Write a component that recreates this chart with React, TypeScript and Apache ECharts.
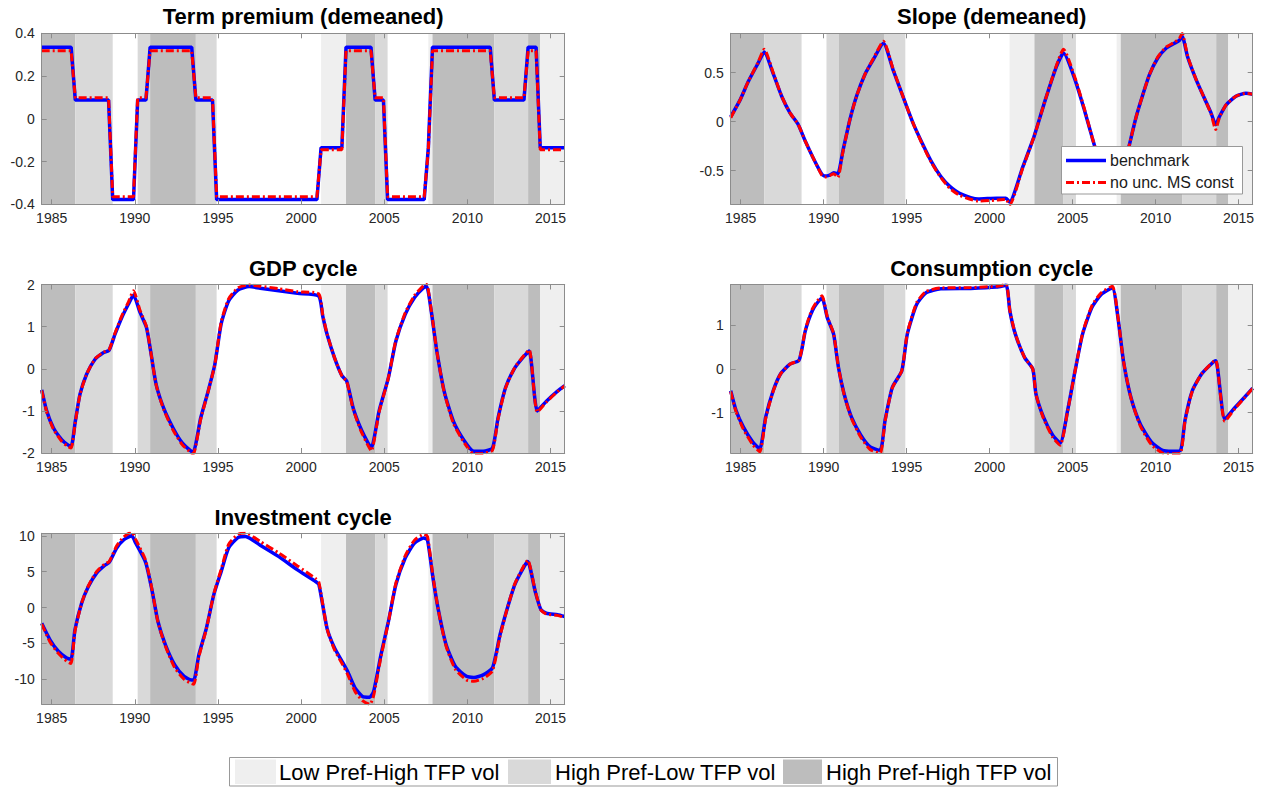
import { useEffect, useRef } from "react";
import * as echarts from "echarts";

// ---- shared axis range ----
const X_MIN = 1984.4;
const X_MAX = 2015.85;
const yearTicks = [1985, 1990, 1995, 2000, 2005, 2010, 2015];

// ---- volatility regimes (quarter edges) ----
const regimeEdges = [1984.4, 1986.42, 1988.67, 1990.17, 1990.92, 1993.67, 1994.92, 2001.2, 2002.7, 2004.45, 2005.2, 2007.65, 2007.9, 2011.62, 2013.65, 2014.38, 2015.85];
const regimeCodes = ["HH", "HL", "LL", "HL", "HH", "HL", "LL", "LH", "HH", "HL", "LL", "LH", "HH", "HL", "HH", "LH"];
const regimeLegend = [
  { code: "LH", label: "Low Pref-High TFP vol" },
  { code: "HL", label: "High Pref-Low TFP vol" },
  { code: "HH", label: "High Pref-High TFP vol" },
];
const regimeColors: Record<string, string> = { LH: "#efefef", HL: "#d9d9d9", HH: "#bdbdbd" };

// ---- Term premium (demeaned) ----
const tpYears = [1984.4, 1986.17, 1986.42, 1988.42, 1988.67, 1989.92, 1990.17, 1990.67, 1990.92, 1993.42, 1993.67, 1994.67, 1994.92, 2000.95, 2001.2, 2002.45, 2002.7, 2004.2, 2004.45, 2004.95, 2005.2, 2007.4, 2007.65, 2007.9, 2011.37, 2011.62, 2013.4, 2013.65, 2014.13, 2014.38, 2015.85];
const tpBench = [0.335, 0.335, 0.088, 0.088, -0.378, -0.378, 0.088, 0.088, 0.335, 0.335, 0.088, 0.088, -0.378, -0.378, -0.135, -0.135, 0.335, 0.335, 0.088, 0.088, -0.378, -0.378, -0.135, 0.335, 0.335, 0.088, 0.088, 0.335, 0.335, -0.135, -0.135];
const tpNoUnc = [0.318, 0.318, 0.098, 0.098, -0.365, -0.365, 0.098, 0.098, 0.318, 0.318, 0.098, 0.098, -0.365, -0.365, -0.145, -0.145, 0.318, 0.318, 0.098, 0.098, -0.365, -0.365, -0.145, 0.318, 0.318, 0.098, 0.098, 0.318, 0.318, -0.145, -0.145];

// ---- Slope (demeaned) ----
const slopeYears = [1984.4, 1984.96, 1985.46, 1986.06, 1986.42, 1986.96, 1987.47, 1987.97, 1988.47, 1988.87, 1989.37, 1989.87, 1990.07, 1990.37, 1990.61, 1990.85, 1991.17, 1991.58, 1991.98, 1992.48, 1992.98, 1993.6, 1994.2, 1994.86, 1995.4, 1995.94, 1996.5, 1997.06, 1997.6, 1998.19, 1999.31, 2000.43, 2000.98, 2001.2, 2002.0, 2002.68, 2003.35, 2004.02, 2004.45, 2005.14, 2005.71, 2006.16, 2006.6, 2007.1, 2007.65, 2007.9, 2008.4, 2008.83, 2009.22, 2009.63, 2010.13, 2010.63, 2011.13, 2011.43, 2011.6, 2011.93, 2012.44, 2012.94, 2013.34, 2013.62, 2013.84, 2014.24, 2014.84, 2015.44, 2015.85];
const slopeBench = [0.05, 0.22, 0.41, 0.6, 0.71, 0.49, 0.26, 0.09, -0.03, -0.19, -0.37, -0.53, -0.555, -0.545, -0.52, -0.53, -0.29, 0.02, 0.26, 0.48, 0.63, 0.8, 0.52, 0.22, -0.02, -0.22, -0.41, -0.56, -0.66, -0.73, -0.79, -0.78, -0.78, -0.82, -0.46, -0.15, 0.22, 0.56, 0.7, 0.43, 0.12, -0.15, -0.4, -0.58, -0.66, -0.6, -0.25, 0.05, 0.27, 0.48, 0.65, 0.75, 0.8, 0.83, 0.87, 0.66, 0.43, 0.24, 0.09, -0.03, 0.05, 0.17, 0.26, 0.29, 0.28];
const slopeNoUnc = [0.04, 0.22, 0.41, 0.61, 0.74, 0.5, 0.26, 0.09, -0.03, -0.19, -0.37, -0.54, -0.565, -0.55, -0.53, -0.57, -0.3, 0.02, 0.26, 0.48, 0.64, 0.82, 0.53, 0.22, -0.02, -0.23, -0.42, -0.57, -0.68, -0.75, -0.81, -0.8, -0.79, -0.85, -0.47, -0.15, 0.22, 0.57, 0.74, 0.45, 0.13, -0.15, -0.4, -0.58, -0.66, -0.6, -0.25, 0.05, 0.27, 0.48, 0.66, 0.76, 0.81, 0.85, 0.9, 0.67, 0.43, 0.24, 0.08, -0.08, 0.04, 0.17, 0.26, 0.29, 0.28];

// ---- GDP cycle ----
const gdpYears = [1984.4, 1984.7, 1985.1, 1985.6, 1985.95, 1986.17, 1986.42, 1986.7, 1987.1, 1987.6, 1988.1, 1988.45, 1988.81, 1989.21, 1989.61, 1989.92, 1990.3, 1990.7, 1990.95, 1991.28, 1991.73, 1992.29, 1992.85, 1993.4, 1993.52, 1993.96, 1994.41, 1994.81, 1995.19, 1995.64, 1996.2, 1996.87, 1997.54, 1998.66, 1999.78, 2001.05, 2001.3, 2001.56, 2002.01, 2002.46, 2002.74, 2003.13, 2003.57, 2004.02, 2004.22, 2004.69, 2005.25, 2005.7, 2006.26, 2006.82, 2007.38, 2007.55, 2007.82, 2008.16, 2008.6, 2009.16, 2009.83, 2010.39, 2010.95, 2011.51, 2011.84, 2012.29, 2012.85, 2013.41, 2013.72, 2014.2, 2014.75, 2015.42, 2015.85];
const gdpBench = [-0.5, -1.0, -1.4, -1.68, -1.8, -1.84, -1.25, -0.61, -0.13, 0.22, 0.38, 0.44, 0.82, 1.21, 1.53, 1.75, 1.35, 0.98, 0.42, -0.37, -0.93, -1.4, -1.76, -1.96, -1.97, -1.17, -0.53, 0.1, 1.06, 1.61, 1.87, 1.95, 1.91, 1.85, 1.79, 1.73, 1.25, 0.82, 0.26, -0.17, -0.29, -0.93, -1.4, -1.76, -1.88, -1.0, -0.21, 0.66, 1.29, 1.69, 1.93, 1.95, 1.38, 0.42, -0.53, -1.25, -1.72, -1.96, -1.96, -1.88, -1.17, -0.45, 0.02, 0.3, 0.42, -1.0, -0.77, -0.53, -0.4];
const gdpNoUnc = [-0.52, -1.02, -1.43, -1.72, -1.84, -1.88, -1.27, -0.62, -0.13, 0.23, 0.39, 0.45, 0.85, 1.25, 1.58, 1.85, 1.4, 1.0, 0.42, -0.38, -0.96, -1.45, -1.8, -2.0, -2.02, -1.2, -0.54, 0.1, 1.1, 1.66, 1.92, 1.99, 1.96, 1.9, 1.83, 1.78, 1.28, 0.83, 0.26, -0.18, -0.3, -0.96, -1.45, -1.82, -1.95, -1.03, -0.21, 0.68, 1.33, 1.74, 1.98, 2.0, 1.4, 0.42, -0.55, -1.3, -1.77, -2.02, -2.01, -1.93, -1.2, -0.46, 0.03, 0.32, 0.45, -1.03, -0.79, -0.54, -0.41];

// ---- Consumption cycle ----
const consYears = [1984.4, 1984.72, 1985.16, 1985.73, 1986.15, 1986.51, 1986.96, 1987.41, 1987.97, 1988.5, 1988.67, 1988.88, 1989.09, 1989.32, 1989.54, 1989.9, 1990.22, 1990.6, 1990.89, 1991.23, 1991.67, 1992.24, 1992.8, 1993.4, 1993.7, 1994.14, 1994.71, 1995.04, 1995.6, 1996.17, 1997.06, 1998.86, 2000.43, 2000.99, 2001.22, 2001.55, 2002.11, 2002.6, 2002.79, 2003.24, 2003.8, 2004.25, 2004.7, 2005.15, 2005.6, 2006.16, 2006.72, 2007.39, 2007.73, 2008.06, 2008.51, 2009.07, 2009.75, 2010.42, 2010.98, 2011.5, 2011.77, 2012.21, 2012.78, 2013.45, 2013.63, 2014.17, 2014.8, 2015.36, 2015.85];
const consBench = [-0.5, -0.95, -1.33, -1.68, -1.83, -1.1, -0.5, -0.11, 0.11, 0.19, 0.42, 0.85, 1.12, 1.34, 1.48, 1.63, 1.18, 0.8, 0.04, -0.57, -1.1, -1.52, -1.79, -1.87, -1.18, -0.42, -0.04, 0.8, 1.48, 1.75, 1.84, 1.85, 1.88, 1.92, 1.33, 0.8, 0.26, 0.0, -0.57, -1.1, -1.52, -1.7, -0.95, -0.04, 0.8, 1.41, 1.71, 1.86, 1.18, 0.19, -0.65, -1.26, -1.68, -1.87, -1.89, -1.87, -1.18, -0.5, -0.11, 0.15, 0.19, -1.15, -0.88, -0.65, -0.44];
const consNoUnc = [-0.52, -0.98, -1.38, -1.74, -1.9, -1.13, -0.51, -0.11, 0.11, 0.2, 0.43, 0.87, 1.15, 1.38, 1.52, 1.68, 1.2, 0.81, 0.04, -0.58, -1.13, -1.57, -1.85, -1.93, -1.2, -0.43, -0.04, 0.82, 1.52, 1.78, 1.86, 1.87, 1.9, 1.94, 1.34, 0.8, 0.26, 0.0, -0.58, -1.13, -1.57, -1.75, -0.97, -0.04, 0.82, 1.45, 1.75, 1.9, 1.2, 0.19, -0.66, -1.3, -1.74, -1.93, -1.95, -1.93, -1.2, -0.51, -0.11, 0.16, 0.2, -1.2, -0.9, -0.66, -0.45];

// ---- Investment cycle ----
const invYears = [1984.4, 1984.9, 1985.4, 1985.9, 1986.16, 1986.4, 1986.8, 1987.2, 1987.7, 1988.2, 1988.46, 1988.91, 1989.31, 1989.81, 1990.05, 1990.65, 1991.05, 1991.39, 1991.84, 1992.4, 1992.96, 1993.4, 1993.55, 1993.85, 1994.3, 1994.75, 1995.19, 1995.64, 1996.2, 1996.65, 1997.54, 1998.66, 1999.78, 2000.89, 2001.07, 2001.56, 2002.01, 2002.46, 2002.79, 2003.24, 2003.69, 2004.13, 2004.36, 2004.8, 2005.25, 2005.7, 2006.26, 2006.82, 2007.38, 2007.6, 2007.93, 2008.27, 2008.72, 2009.27, 2009.94, 2010.39, 2010.95, 2011.51, 2011.96, 2012.4, 2012.85, 2013.41, 2013.63, 2014.08, 2014.42, 2014.75, 2015.42, 2015.85];
const invBench = [-2.2, -4.5, -6.1, -7.05, -7.2, -3.1, 0.6, 2.9, 4.8, 5.9, 6.3, 8.3, 9.4, 10.0, 9.0, 6.3, 2.2, -1.95, -5.2, -8.0, -9.6, -10.1, -10.1, -6.6, -2.9, 1.8, 5.0, 8.3, 9.75, 9.9, 8.7, 7.1, 5.25, 3.6, 3.2, -2.9, -5.65, -7.5, -8.9, -11.2, -12.4, -12.5, -11.7, -6.6, -1.95, 3.2, 6.9, 9.0, 9.7, 9.4, 4.1, -0.55, -5.2, -8.2, -9.6, -9.75, -9.4, -8.4, -3.8, -0.1, 3.2, 5.7, 6.4, 2.2, -0.3, -0.8, -1.0, -1.25];
const invNoUnc = [-2.3, -4.8, -6.4, -7.5, -7.8, -3.3, 0.6, 3.0, 5.0, 6.1, 6.4, 8.6, 9.8, 10.5, 9.5, 6.6, 2.3, -2.0, -5.4, -8.4, -10.0, -10.6, -10.7, -6.9, -3.0, 1.9, 5.3, 8.8, 10.2, 10.4, 9.2, 7.6, 5.8, 4.0, 3.5, -3.0, -5.9, -7.8, -9.3, -11.7, -13.0, -13.5, -12.3, -6.9, -2.0, 3.4, 7.2, 9.4, 10.2, 9.9, 4.3, -0.6, -5.4, -8.6, -10.1, -10.3, -9.9, -8.8, -4.0, -0.1, 3.3, 5.9, 6.6, 2.3, -0.35, -0.9, -1.1, -1.4];

// ---- panel layout ----
const FONT = "'Liberation Sans', Arial, Helvetica, sans-serif";
const BOX = "#8c8c8c";
const LABEL = "#262626";
const BLUE = "#0000ff";
const RED = "#ff0000";
const RED_DASH = [8, 3, 2, 3];

type Panel = {
  title: string;
  grid: { left: number; top: number; width: number; height: number };
  yMin: number;
  yMax: number;
  yTicks: number[];
  years: number[];
  bench: number[];
  noUnc: number[];
  smooth: number | boolean;
};

const panels: Panel[] = [
  { title: "Term premium (demeaned)", grid: { left: 41.7, top: 33.3, width: 523, height: 171 }, yMin: -0.4, yMax: 0.4, yTicks: [-0.4, -0.2, 0, 0.2, 0.4], years: tpYears, bench: tpBench, noUnc: tpNoUnc, smooth: false },
  { title: "Slope (demeaned)", grid: { left: 730.7, top: 33.3, width: 522, height: 171 }, yMin: -0.843, yMax: 0.902, yTicks: [-0.5, 0, 0.5], years: slopeYears, bench: slopeBench, noUnc: slopeNoUnc, smooth: 0.2 },
  { title: "GDP cycle", grid: { left: 41.7, top: 284.5, width: 523, height: 168.5 }, yMin: -2, yMax: 2, yTicks: [-2, -1, 0, 1, 2], years: gdpYears, bench: gdpBench, noUnc: gdpNoUnc, smooth: 0.2 },
  { title: "Consumption cycle", grid: { left: 730.7, top: 284.5, width: 522, height: 168.5 }, yMin: -1.93, yMax: 1.94, yTicks: [-1, 0, 1], years: consYears, bench: consBench, noUnc: consNoUnc, smooth: 0.2 },
  { title: "Investment cycle", grid: { left: 41.7, top: 533.3, width: 523, height: 171 }, yMin: -13.5, yMax: 10.35, yTicks: [-10, -5, 0, 5, 10], years: invYears, bench: invBench, noUnc: invNoUnc, smooth: 0.2 },
];

const titleCenters = [16.7, 16.7, 268.3, 268.3, 517];

function buildOption() {
  const grids: any[] = [];
  const xAxes: any[] = [];
  const yAxes: any[] = [];
  const series: any[] = [];
  const graphics: any[] = [];

  const bands = regimeCodes
    .map((code, i) =>
      code === "LL"
        ? null
        : [
            { xAxis: regimeEdges[i], itemStyle: { color: regimeColors[code], opacity: 1 } },
            { xAxis: regimeEdges[i + 1] },
          ]
    )
    .filter(Boolean);

  panels.forEach((p, gi) => {
    grids.push({ ...p.grid });
    const tickStyle = { show: true, inside: true, length: 5, lineStyle: { color: BOX, width: 1 } };
    const lineStyle = { show: true, onZero: false, lineStyle: { color: BOX, width: 1 } };
    xAxes.push({
      type: "value", gridIndex: gi, min: X_MIN, max: X_MAX, position: "bottom", z: 10,
      splitLine: { show: false }, axisLine: lineStyle,
      axisTick: { ...tickStyle, customValues: yearTicks },
      axisLabel: {
        customValues: yearTicks, margin: 7, fontSize: 14, color: LABEL, fontFamily: FONT,
        formatter: (v: number) => String(Math.round(v)),
      },
    });
    xAxes.push({
      type: "value", gridIndex: gi, min: X_MIN, max: X_MAX, position: "top", z: 10,
      splitLine: { show: false }, axisLine: lineStyle,
      axisTick: { ...tickStyle, customValues: yearTicks },
      axisLabel: { show: false },
    });
    yAxes.push({
      type: "value", gridIndex: gi, min: p.yMin, max: p.yMax, position: "left", z: 10,
      splitLine: { show: false }, axisLine: lineStyle,
      axisTick: { ...tickStyle, customValues: p.yTicks },
      axisLabel: { customValues: p.yTicks, margin: 7, fontSize: 14, color: LABEL, fontFamily: FONT },
    });
    yAxes.push({
      type: "value", gridIndex: gi, min: p.yMin, max: p.yMax, position: "right", z: 10,
      splitLine: { show: false }, axisLine: lineStyle,
      axisTick: { ...tickStyle, customValues: p.yTicks },
      axisLabel: { show: false },
    });

    const xi = gi * 2;
    const yi = gi * 2;
    // regime shading
    series.push({
      type: "line", xAxisIndex: xi, yAxisIndex: yi, data: [], z: 1, silent: true,
      markArea: { silent: true, data: bands },
    });
    series.push({
      name: "benchmark", type: "line", xAxisIndex: xi, yAxisIndex: yi, z: 3,
      data: p.years.map((t, i) => [t, p.bench[i]]),
      symbol: "none", smooth: p.smooth, lineStyle: { color: BLUE, width: 3.5 },
    });
    series.push({
      name: "no unc. MS const", type: "line", xAxisIndex: xi, yAxisIndex: yi, z: 4,
      data: p.years.map((t, i) => [t, p.noUnc[i]]),
      symbol: "none", smooth: p.smooth, lineStyle: { color: RED, width: 3, type: RED_DASH },
    });

    graphics.push({
      type: "text", z: 20,
      style: {
        text: p.title, x: p.grid.left + p.grid.width / 2, y: titleCenters[gi],
        align: "center", verticalAlign: "middle",
        fontSize: 22, fontWeight: "bold", fontFamily: FONT, fill: "#000",
      },
    });
  });

  // line legend inside the slope panel
  graphics.push(
    { type: "rect", z: 30, shape: { x: 1061.5, y: 146.5, width: 181, height: 47.5 }, style: { fill: "#fff", stroke: "#999", lineWidth: 1 } },
    { type: "line", z: 31, shape: { x1: 1066, y1: 160.5, x2: 1106, y2: 160.5 }, style: { stroke: BLUE, lineWidth: 3.5 } },
    { type: "line", z: 31, shape: { x1: 1066, y1: 182.5, x2: 1106, y2: 182.5 }, style: { stroke: RED, lineWidth: 3, lineDash: RED_DASH } },
    { type: "text", z: 31, style: { text: "benchmark", x: 1110, y: 160.5, verticalAlign: "middle", fontSize: 16, fontFamily: FONT, fill: "#1a1a1a" } },
    { type: "text", z: 31, style: { text: "no unc. MS const", x: 1110, y: 182.5, verticalAlign: "middle", fontSize: 16, fontFamily: FONT, fill: "#1a1a1a" } }
  );

  // regime legend at the bottom
  const swatchX = [235, 508, 783];
  const swatchW = [41, 43, 39];
  const textX = [279, 555, 826];
  graphics.push({ type: "rect", z: 30, shape: { x: 229.5, y: 757.5, width: 828, height: 28.5 }, style: { fill: "#fff", stroke: "#999", lineWidth: 1 } });
  regimeLegend.forEach((r, i) => {
    graphics.push(
      { type: "rect", z: 31, shape: { x: swatchX[i], y: 759.5, width: swatchW[i], height: 24.5 }, style: { fill: regimeColors[r.code] } },
      { type: "text", z: 31, style: { text: r.label, x: textX[i], y: 772, verticalAlign: "middle", fontSize: 22, fontFamily: FONT, fill: "#000" } }
    );
  });

  return {
    animation: false,
    backgroundColor: "#fff",
    grid: grids,
    xAxis: xAxes,
    yAxis: yAxes,
    series,
    graphic: graphics,
  };
}

export default function App() {
  const ref = useRef<HTMLDivElement>(null);
  useEffect(() => {
    if (!ref.current) return;
    const chart = echarts.init(ref.current, undefined, { renderer: "svg" });
    chart.setOption(buildOption());
    return () => chart.dispose();
  }, []);
  return (
    <div
      ref={ref}
      style={{ position: "fixed", left: 0, top: 0, width: 1262, height: 787, background: "#fff" }}
    />
  );
}
